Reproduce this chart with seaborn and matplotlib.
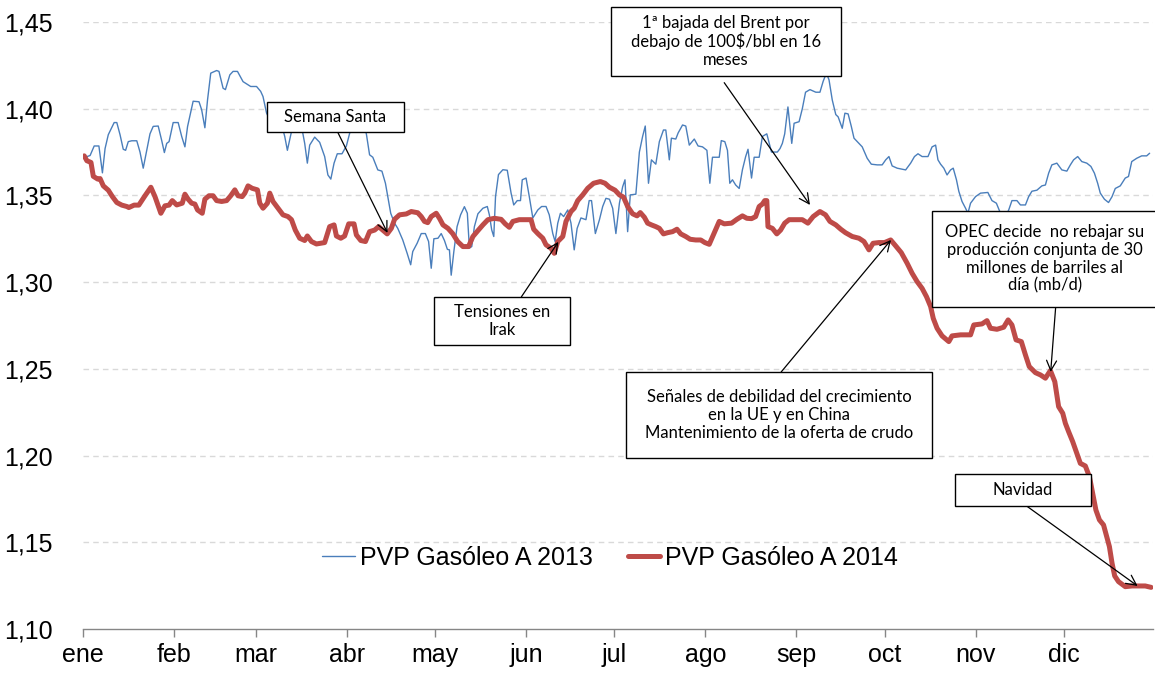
import pandas as pd
import matplotlib
matplotlib.use("Agg")
import matplotlib.pyplot as plt
import seaborn as sns
from matplotlib.patches import Rectangle

# day of year (0 = 1 ene) and price
pvp_2013 = [
    (0.7, 1.372), (2.4, 1.373), (3.8, 1.3785), (5.4, 1.3785), (6.6, 1.363), (7.5, 1.377),
    (8.6, 1.385), (10.6, 1.392), (11.5, 1.392), (12.6, 1.385), (13.7, 1.3766), (14.5, 1.376),
    (15.4, 1.381), (16.6, 1.3815), (18.3, 1.3815), (19.4, 1.375), (20.5, 1.3657), (21.7, 1.376),
    (22.8, 1.3855), (23.9, 1.3898), (25.6, 1.390), (26.8, 1.3816), (27.7, 1.3747), (28.5, 1.380),
    (29.3, 1.381), (30.7, 1.392), (32.4, 1.392), (33.6, 1.384), (34.7, 1.378), (35.6, 1.3897),
    (37.5, 1.4043), (39.5, 1.404), (40.4, 1.3994), (41.5, 1.389), (42.4, 1.405), (43.5, 1.4205),
    (45.5, 1.422), (46.3, 1.4215), (47.7, 1.4118), (48.5, 1.411), (50.0, 1.4195), (51.1, 1.4215),
    (52.6, 1.4215), (54.5, 1.4156), (56.0, 1.414), (57.1, 1.4128), (59.1, 1.4128), (60.5, 1.410),
    (61.3, 1.407), (62.5, 1.3975), (63.6, 1.3937), (65.9, 1.3933), (67.6, 1.391), (68.7, 1.384),
    (69.6, 1.376), (71.0, 1.3868), (72.1, 1.3916), (74.4, 1.390), (75.5, 1.380), (76.4, 1.3686),
    (77.2, 1.379), (78.9, 1.3836), (80.6, 1.3806), (82.3, 1.3724), (83.4, 1.3618), (84.4, 1.3594),
    (85.5, 1.3686), (86.6, 1.374), (88.2, 1.374), (89.7, 1.3785), (91.6, 1.391), (92.5, 1.394),
    (93.9, 1.399), (95.0, 1.394), (96.5, 1.3855), (97.6, 1.3734), (98.7, 1.372), (100.4, 1.3647),
    (101.8, 1.364), (103.0, 1.357), (103.8, 1.3493), (104.8, 1.3397), (106.1, 1.334), (107.2, 1.331),
    (108.9, 1.3243), (110.4, 1.3166), (111.6, 1.310), (112.3, 1.3176), (113.8, 1.3224), (115.2, 1.328),
    (116.6, 1.328), (117.7, 1.3234), (118.6, 1.308), (119.5, 1.325), (120.9, 1.3253), (122.0, 1.328),
    (123.1, 1.324), (124.1, 1.3189), (124.8, 1.3186), (125.4, 1.304), (126.3, 1.3176), (127.4, 1.332),
    (128.6, 1.3388), (129.9, 1.3435), (130.9, 1.3397), (131.6, 1.3196), (132.4, 1.3205), (133.3, 1.332),
    (134.5, 1.3394), (136.2, 1.3426), (137.7, 1.3436), (138.4, 1.3388), (139.2, 1.3301), (139.9, 1.3263),
    (140.5, 1.3493), (141.5, 1.362), (143.0, 1.3648), (144.5, 1.3645), (145.8, 1.3513), (146.7, 1.3445),
    (147.9, 1.347), (149.0, 1.347), (149.6, 1.359), (150.9, 1.360), (152.0, 1.3493), (153.2, 1.337),
    (154.9, 1.3416), (156.2, 1.3436), (157.7, 1.3436), (158.8, 1.3388), (160.0, 1.328), (160.8, 1.3234),
    (161.7, 1.334), (162.6, 1.3397), (163.7, 1.3378), (165.1, 1.3416), (166.2, 1.334), (167.3, 1.3186),
    (168.3, 1.331), (169.6, 1.337), (171.3, 1.336), (172.4, 1.347), (173.2, 1.347), (174.5, 1.328),
    (175.9, 1.336), (177.0, 1.3436), (178.1, 1.3483), (179.3, 1.3478), (180.4, 1.3426), (181.5, 1.328),
    (182.7, 1.3455), (183.8, 1.355), (184.6, 1.359), (185.5, 1.3291), (186.4, 1.3503), (188.3, 1.3507),
    (189.5, 1.375), (190.6, 1.384), (191.5, 1.390), (192.6, 1.357), (193.6, 1.3705), (195.1, 1.368),
    (196.3, 1.381), (197.7, 1.3877), (198.5, 1.3877), (199.7, 1.3705), (200.4, 1.383), (201.9, 1.3825),
    (202.7, 1.386), (204.2, 1.3906), (205.3, 1.390), (206.5, 1.379), (208.2, 1.3825), (209.5, 1.3785),
    (211.0, 1.378), (212.5, 1.376), (213.5, 1.357), (214.4, 1.372), (216.7, 1.372), (217.4, 1.3816),
    (218.6, 1.381), (219.5, 1.376), (220.3, 1.357), (221.2, 1.359), (222.3, 1.356), (223.5, 1.354),
    (224.6, 1.3648), (225.7, 1.3724), (226.5, 1.3766), (227.7, 1.360), (228.6, 1.372), (230.3, 1.372),
    (231.4, 1.384), (232.9, 1.3855), (234.5, 1.375), (236.5, 1.375), (237.4, 1.377), (238.2, 1.380),
    (239.0, 1.3855), (240.1, 1.401), (241.4, 1.380), (242.2, 1.3916), (243.9, 1.3925), (245.0, 1.400),
    (246.1, 1.4095), (247.6, 1.411), (249.6, 1.4095), (251.0, 1.4095), (252.1, 1.4158), (253.2, 1.4205),
    (254.1, 1.4166), (255.2, 1.405), (256.4, 1.3966), (257.2, 1.3953), (258.6, 1.3887), (259.5, 1.3974),
    (260.6, 1.397), (261.7, 1.3897), (262.6, 1.383), (263.7, 1.381), (265.4, 1.378), (267.1, 1.3714),
    (268.5, 1.368), (270.5, 1.3676), (272.2, 1.3676), (273.4, 1.3705), (274.5, 1.3724), (275.6, 1.367),
    (277.3, 1.3657), (280.2, 1.3647), (281.9, 1.3686), (283.2, 1.3724), (284.4, 1.374), (285.8, 1.3724),
    (287.8, 1.3724), (289.2, 1.378), (290.4, 1.379), (291.2, 1.3705), (292.1, 1.368), (293.2, 1.3657),
    (294.3, 1.3618), (295.5, 1.3647), (296.4, 1.3657), (297.5, 1.359), (298.3, 1.3524), (299.4, 1.3465),
    (300.6, 1.3426), (301.4, 1.3397), (302.3, 1.3455), (304.0, 1.3493), (305.7, 1.3513), (308.2, 1.3517),
    (309.6, 1.347), (311.1, 1.3455), (312.5, 1.3397), (314.2, 1.3378), (315.3, 1.3416), (316.4, 1.347),
    (318.1, 1.347), (319.3, 1.3445), (321.0, 1.3445), (322.1, 1.3493), (323.2, 1.3524), (324.9, 1.353),
    (326.6, 1.3555), (327.8, 1.356), (328.9, 1.3628), (330.0, 1.3676), (331.7, 1.3686), (333.4, 1.3647),
    (335.1, 1.364), (336.3, 1.3676), (337.4, 1.3705), (338.8, 1.3724), (340.2, 1.3695), (341.9, 1.3686),
    (343.3, 1.3667), (344.5, 1.3628), (345.6, 1.357), (346.5, 1.3513), (347.9, 1.3478), (349.3, 1.3459),
    (350.5, 1.3493), (351.6, 1.354), (353.3, 1.3555), (355.0, 1.360), (356.1, 1.3609), (357.2, 1.3695),
    (358.9, 1.3714), (360.6, 1.3728), (362.3, 1.3728), (363.3, 1.3743),
]

pvp_2014 = [
    (0.4, 1.3728), (1.3, 1.370), (2.7, 1.369), (3.5, 1.361), (5.0, 1.3594), (5.8, 1.3597),
    (6.9, 1.3555), (8.6, 1.353), (10.0, 1.3493), (11.5, 1.3459), (13.2, 1.3444), (14.9, 1.3436),
    (15.6, 1.343), (17.4, 1.3444), (19.0, 1.3444), (21.1, 1.3498), (23.1, 1.3547), (24.5, 1.3493),
    (26.5, 1.3397), (27.9, 1.344), (29.3, 1.3444), (30.4, 1.347), (31.9, 1.3445), (33.8, 1.3455),
    (34.7, 1.3507), (35.8, 1.3478), (37.0, 1.3455), (38.1, 1.345), (39.0, 1.3416), (40.6, 1.3397),
    (41.5, 1.3478), (42.9, 1.3498), (44.3, 1.3498), (45.5, 1.347), (47.2, 1.3465), (48.9, 1.347),
    (50.3, 1.3498), (51.7, 1.3532), (52.8, 1.3498), (54.2, 1.3493), (55.1, 1.3513), (56.2, 1.3555),
    (57.6, 1.3541), (59.4, 1.3532), (60.2, 1.3455), (61.3, 1.3426), (62.8, 1.3455), (63.6, 1.3513),
    (64.7, 1.3465), (66.4, 1.3426), (68.1, 1.3388), (69.8, 1.3378), (71.0, 1.336), (72.3, 1.330),
    (73.8, 1.3253), (75.5, 1.324), (76.4, 1.3266), (77.8, 1.3234), (79.5, 1.322), (82.3, 1.3228),
    (84.0, 1.332), (85.5, 1.333), (86.3, 1.3266), (87.8, 1.3253), (89.1, 1.3266), (90.5, 1.3336),
    (92.3, 1.3336), (93.1, 1.3272), (94.6, 1.324), (96.2, 1.3234), (97.6, 1.3291), (99.3, 1.330),
    (100.7, 1.332), (102.1, 1.330), (103.6, 1.3278), (105.0, 1.331), (106.1, 1.3362), (107.8, 1.3388),
    (110.1, 1.3393), (111.8, 1.3407), (114.0, 1.340), (115.2, 1.3378), (116.3, 1.335), (117.4, 1.3343),
    (118.6, 1.3378), (120.3, 1.3397), (121.4, 1.3368), (122.6, 1.333), (124.3, 1.331), (125.9, 1.328),
    (127.6, 1.3234), (129.4, 1.3205), (131.3, 1.3205), (132.8, 1.3263), (134.5, 1.3297), (136.2, 1.333),
    (137.9, 1.336), (140.1, 1.3368), (142.4, 1.3362), (143.8, 1.3336), (145.2, 1.3316), (146.4, 1.335),
    (148.6, 1.336), (152.6, 1.336), (153.5, 1.3305), (154.9, 1.328), (156.6, 1.3253), (157.7, 1.3215),
    (159.4, 1.3195), (160.5, 1.3166), (161.7, 1.3234), (163.4, 1.3263), (164.5, 1.335), (166.2, 1.3407),
    (167.3, 1.3426), (168.5, 1.347), (170.2, 1.3503), (171.9, 1.3541), (173.9, 1.357), (176.2, 1.358),
    (177.8, 1.357), (179.3, 1.3547), (181.2, 1.353), (182.7, 1.3503), (184.1, 1.349), (185.5, 1.3436),
    (187.2, 1.3394), (188.7, 1.3382), (189.8, 1.3401), (191.2, 1.3374), (192.3, 1.334), (193.6, 1.333),
    (195.1, 1.332), (196.3, 1.331), (197.7, 1.3278), (199.1, 1.3285), (200.8, 1.3291), (202.3, 1.3305),
    (203.6, 1.3278), (205.3, 1.3263), (206.8, 1.3247), (208.7, 1.3243), (210.4, 1.3243), (211.8, 1.3228),
    (213.3, 1.3218), (214.7, 1.3272), (216.7, 1.335), (218.4, 1.3336), (220.9, 1.334), (222.7, 1.3362),
    (224.6, 1.3382), (226.1, 1.3368), (227.7, 1.3366), (229.1, 1.3378), (230.3, 1.3436), (231.4, 1.345),
    (232.2, 1.347), (232.9, 1.347), (233.3, 1.332), (234.8, 1.331), (236.3, 1.3278), (237.6, 1.330),
    (239.0, 1.334), (240.5, 1.336), (242.8, 1.336), (245.0, 1.336), (246.9, 1.334), (248.7, 1.3378),
    (251.0, 1.3407), (252.9, 1.3388), (254.4, 1.335), (256.4, 1.333), (258.1, 1.3305), (259.7, 1.3285),
    (262.0, 1.3263), (264.3, 1.3253), (266.0, 1.3234), (267.7, 1.3186), (269.1, 1.3224), (271.1, 1.3228),
    (273.0, 1.3228), (275.1, 1.3243), (276.8, 1.3209), (278.7, 1.317), (280.7, 1.3109), (282.4, 1.3051),
    (284.1, 1.3003), (285.8, 1.2964), (287.3, 1.2916), (288.7, 1.2859), (289.6, 1.2791), (290.9, 1.2734),
    (292.6, 1.269), (294.9, 1.2657), (296.0, 1.269), (298.9, 1.2696), (302.3, 1.2696), (303.4, 1.2753),
    (306.2, 1.2759), (307.9, 1.2778), (309.1, 1.2734), (311.3, 1.2728), (313.6, 1.274), (315.1, 1.2782),
    (316.4, 1.2753), (317.8, 1.2667), (319.6, 1.2657), (321.0, 1.258), (322.3, 1.2513), (324.4, 1.2478),
    (326.1, 1.2465), (327.8, 1.2446), (329.5, 1.249), (331.0, 1.2426), (332.3, 1.2282), (333.7, 1.2244),
    (334.6, 1.2186), (335.7, 1.2138), (337.1, 1.208), (338.5, 1.2013), (339.7, 1.1955), (341.4, 1.194),
    (342.8, 1.1878), (343.9, 1.1783), (345.0, 1.1686), (346.2, 1.1629), (347.6, 1.16), (348.7, 1.1532),
    (349.6, 1.1475), (350.5, 1.1379), (351.4, 1.1306), (352.7, 1.1273), (355.0, 1.1244), (357.3, 1.1248),
    (359.5, 1.1248), (361.8, 1.1248), (363.8, 1.124),
]

month_starts = [0, 31, 59, 90, 120, 151, 181, 212, 243, 273, 304, 334]
month_labels = ["ene", "feb", "mar", "abr", "may", "jun", "jul", "ago", "sep", "oct", "nov", "dic"]
y_ticks = [1.10, 1.15, 1.20, 1.25, 1.30, 1.35, 1.40, 1.45]
y_labels = ["1,10", "1,15", "1,20", "1,25", "1,30", "1,35", "1,40", "1,45"]

# annotations: text, box (x0, y0, x1, y1) in data units, arrow start, arrow tip
notas = [
    ("Semana Santa", (62.6, 1.3866, 109.2, 1.4039), (86.7, 1.3866), (103.7, 1.3284)),
    ("Tensiones en\nIrak", (119.7, 1.2638, 166.0, 1.2915), (149.3, 1.2915), (161.9, 1.3232)),
    ("1ª bajada del Brent por\ndebajo de 100$/bbl en 16\nmeses", (179.9, 1.4189, 258.2, 1.4587),
     (218.4, 1.4150), (247.6, 1.3445)),
    ("Señales de debilidad del crecimiento\nen la UE y en China\nMantenimiento de la oferta de crudo",
     (185.0, 1.1986, 289.1, 1.2482), (237.8, 1.2482), (275.2, 1.3243)),
    ("OPEC decide  no rebajar su\nproducción conjunta de 30\nmillones de barriles al\ndía (mb/d)",
     (289.1, 1.2857, 366.0, 1.3411), (331.3, 1.2857), (329.6, 1.2482)),
    ("Navidad", (296.9, 1.1709, 343.2, 1.1894), (321.4, 1.1709), (359.2, 1.1248)),
]

df13 = pd.DataFrame(pvp_2013, columns=["dia", "precio"])
df14 = pd.DataFrame(pvp_2014, columns=["dia", "precio"])

sns.set_theme(style="white")
plt.rcParams["font.family"] = ["Liberation Sans", "DejaVu Sans"]
plt.rcParams["text.color"] = "black"

fig = plt.figure(figsize=(11.55, 6.74), dpi=100)
ax = fig.add_axes([0.0719, 0.0668, 0.9265, 0.9006])

sns.lineplot(data=df13, x="dia", y="precio", ax=ax, color="#4a7ebb", linewidth=1.0,
             estimator=None, sort=False, label="PVP Gasóleo A 2013", zorder=3)
sns.lineplot(data=df14, x="dia", y="precio", ax=ax, color="#be4b48", linewidth=3.6,
             estimator=None, sort=False, label="PVP Gasóleo A 2014", zorder=4)

ax.set_xlim(0, 364.5)
ax.set_ylim(1.10, 1.45)
ax.set_xticks(month_starts)
ax.set_xticklabels(month_labels, fontsize=18, color="black")
ax.set_yticks(y_ticks)
ax.set_yticklabels(y_labels, fontsize=18, color="black")
ax.set_xlabel("")
ax.set_ylabel("")
ax.tick_params(axis="x", direction="out", length=6, width=1, color="#868686", pad=4, bottom=True)
ax.tick_params(axis="y", length=0, pad=22)

for yv in y_ticks[1:]:
    ax.axhline(yv, color="#d9d9d9", linewidth=1, linestyle=(0, (4, 3)), zorder=1)

for side in ["left", "right", "top"]:
    ax.spines[side].set_visible(False)
ax.spines["bottom"].set_color("#868686")
ax.spines["bottom"].set_linewidth(1)

for texto, (x0, y0, x1, y1), inicio, punta in notas:
    ax.annotate("", xy=punta, xytext=inicio,
                arrowprops=dict(arrowstyle="->,head_length=0.6,head_width=0.3", color="black",
                                lw=0.9, shrinkA=0, shrinkB=0), zorder=6, annotation_clip=False)
    ax.add_patch(Rectangle((x0, y0), x1 - x0, y1 - y0, facecolor="white", edgecolor="black",
                           linewidth=1.0, zorder=7, clip_on=False))
    ax.text((x0 + x1) / 2, (y0 + y1) / 2, texto, ha="center", va="center", fontsize=12,
            family=["Lato", "DejaVu Sans"], linespacing=1.15, color="black", zorder=8)

leg = ax.legend(loc="center", bbox_to_anchor=(0.4925, 0.117), ncol=2, frameon=False, fontsize=18,
                handlelength=1.3, handletextpad=0.2, columnspacing=1.4)
for t in leg.get_texts():
    t.set_color("black")

fig.savefig("out.png", dpi=100)
